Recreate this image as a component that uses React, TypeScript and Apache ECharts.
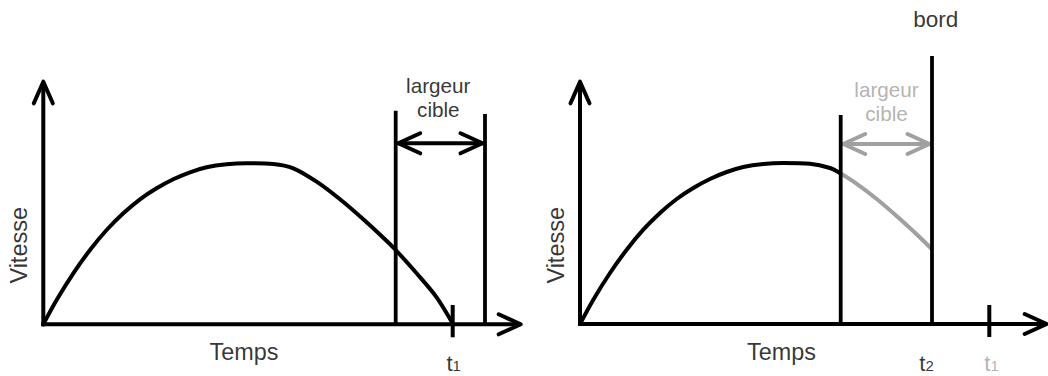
import React, { useEffect, useRef } from "react";
import * as echarts from "echarts";

const FONT = "'Liberation Sans', Arial, Helvetica, sans-serif";
const BLACK = "#000000";
const GREY = "#a0a0a0";

// Speed curve: time (x) and speed (y), origin at the axes' corner
const curveTime = [0, 13.3, 30, 46.7, 63.3, 80, 96.7, 113.3, 130, 146.7, 163.3, 183.3, 203.3, 230, 250, 273.3, 296.7, 320, 340, 352.4, 373.3, 393.3, 409];
const curveSpeed = [0, 24.3, 51, 74.3, 94.3, 111, 125, 136, 145, 152, 157, 160, 161, 160.3, 156, 142.6, 125, 105, 86.5, 74.3, 51, 27, 1.5];

// Right panel: where the target line cuts the curve
const rightJoin: [number, number] = [260.7, 150.5];

// Texts
const axisTexts = ["Vitesse", "Temps"];
const targetText = "largeur\ncible";
const edgeText = "bord";

// Panel geometry (left = no edge, right = with edge)
const leftTargetLines: [number, number][] = [[352.4, 213.6], [441.7, 210.3]];
const rightTargetLines: [number, number][] = [[260.7, 209], [352, 268]];
const leftT1 = 409.4;
const rightT1 = 409.3;

const curve: [number, number][] = curveTime.map((t, i) => [t, curveSpeed[i]]);

function seg(gi: number, data: number[][], color: string, width = 4, cap = "butt", z = 2, smooth: number | boolean = false) {
  return {
    type: "line",
    xAxisIndex: gi,
    yAxisIndex: gi,
    data,
    symbol: "none",
    showSymbol: false,
    silent: true,
    smooth,
    z,
    lineStyle: { color, width, cap, join: "round" },
  };
}

function chevronRight(tipX: number, y: number) {
  return [[tipX - 22, y + 10], [tipX, y], [tipX - 22, y - 10]];
}
function chevronLeft(tipX: number, y: number) {
  return [[tipX + 22, y + 10], [tipX, y], [tipX + 22, y - 10]];
}
function chevronUp(yTop: number) {
  return [[-9.5, yTop - 21.6], [0, yTop], [9.5, yTop - 21.6]];
}

function tLabel(sub: string, color: string) {
  return {
    formatter: `{t|t}{s|${sub}}`,
    rich: {
      t: { fontSize: 22, fontFamily: FONT, color, lineHeight: 19 },
      s: { fontSize: 15, fontFamily: FONT, color, lineHeight: 11, verticalAlign: "bottom" },
    },
  };
}

function labelSeries(gi: number, items: any[]) {
  return {
    type: "scatter",
    xAxisIndex: gi,
    yAxisIndex: gi,
    symbol: "circle",
    symbolSize: 0,
    silent: true,
    z: 10,
    data: items.map((it) => ({
      value: it.at,
      label: {
        show: true,
        position: "inside",
        align: "center",
        verticalAlign: "middle",
        fontFamily: FONT,
        textBorderWidth: 0,
        ...it.label,
      },
    })),
  };
}

export default function App() {
  const ref = useRef<HTMLDivElement>(null);
  useEffect(() => {
    if (!ref.current) return;
    const chart = echarts.init(ref.current, undefined, { renderer: "svg" });

    const leftYTop = 242.6;
    const leftXEnd = 477.4;
    const rightYTop = 242.3;
    const rightXEnd = 466.7;
    const leftArrowY = 181;
    const rightArrowY = 180;

    const rightBlack = [...curve.filter((p) => p[0] <= 250), rightJoin];
    const rightGrey = [rightJoin, ...curve.filter((p) => p[0] > 261 && p[0] <= 353)];

    const series: any[] = [
      // ---- left panel
      seg(0, [[-2, 0], [leftXEnd, 0]], BLACK),
      seg(0, [[0, -2], [0, leftYTop]], BLACK),
      seg(0, chevronUp(leftYTop), BLACK, 4, "round"),
      seg(0, chevronRight(leftXEnd, 0), BLACK, 4, "round"),
      seg(0, curve, BLACK, 4, "round", 3, 0.3),
      ...leftTargetLines.map((l) => seg(0, [[l[0], 0], [l[0], l[1]]], BLACK, 3.8)),
      seg(0, [[leftT1, -13], [leftT1, 19.3]], BLACK, 4),
      seg(0, [[leftTargetLines[0][0] + 2, leftArrowY], [leftTargetLines[1][0] - 2, leftArrowY]], BLACK, 4),
      seg(0, chevronLeft(leftTargetLines[0][0] + 2.5, leftArrowY), BLACK, 4, "round"),
      seg(0, chevronRight(leftTargetLines[1][0] - 2.5, leftArrowY), BLACK, 4, "round"),
      labelSeries(0, [
        { at: [-24.3, 79], label: { formatter: axisTexts[0], fontSize: 23.5, color: BLACK, rotate: 90 } },
        { at: [200.7, -28], label: { formatter: axisTexts[1], fontSize: 23.4, color: BLACK } },
        { at: [395, 227], label: { formatter: targetText, fontSize: 20.7, lineHeight: 24, color: BLACK } },
        { at: [leftT1 + 1, -39.5], label: tLabel("1", BLACK) },
      ]),
      // ---- right panel
      seg(1, [[-2, 0], [rightXEnd, 0]], BLACK),
      seg(1, [[0, -2], [0, rightYTop]], BLACK),
      seg(1, chevronUp(rightYTop), BLACK, 4, "round"),
      seg(1, chevronRight(rightXEnd, 0), BLACK, 4, "round"),
      seg(1, rightBlack, BLACK, 4, "round", 3, 0.3),
      seg(1, rightGrey, GREY, 4, "butt", 3, 0.3),
      ...rightTargetLines.map((l) => seg(1, [[l[0], 0], [l[0], l[1]]], BLACK, 3.8, "butt", 4)),
      seg(1, [[rightT1, -13], [rightT1, 19]], BLACK, 4),
      seg(1, [[rightTargetLines[0][0] + 2, rightArrowY], [rightTargetLines[1][0] - 2, rightArrowY]], GREY, 4),
      seg(1, chevronLeft(rightTargetLines[0][0] + 2.5, rightArrowY), GREY, 4, "round"),
      seg(1, chevronRight(rightTargetLines[1][0] - 2.5, rightArrowY), GREY, 4, "round"),
      labelSeries(1, [
        { at: [-24.3, 78.7], label: { formatter: axisTexts[0], fontSize: 23.5, color: BLACK, rotate: 90 } },
        { at: [201.5, -28], label: { formatter: axisTexts[1], fontSize: 23.4, color: BLACK } },
        { at: [306.5, 223], label: { formatter: targetText, fontSize: 20.7, lineHeight: 24, color: GREY } },
        { at: [355.7, 305], label: { formatter: edgeText, fontSize: 22.5, color: BLACK } },
        { at: [346.5, -39.5], label: tLabel("2", BLACK) },
        { at: [411.5, -39.5], label: tLabel("1", GREY) },
      ]),
    ];

    chart.setOption({
      animation: false,
      backgroundColor: "#ffffff",
      grid: [
        { left: 0, top: 0, width: 524, height: 376, outerBoundsMode: "none", containLabel: false },
        { left: 536.7, top: 0, width: 511.3, height: 376, outerBoundsMode: "none", containLabel: false },
      ],
      xAxis: [
        { type: "value", gridIndex: 0, min: -43.3, max: 480.7, show: false },
        { type: "value", gridIndex: 1, min: -43.3, max: 468, show: false },
      ],
      yAxis: [
        { type: "value", gridIndex: 0, min: -51.7, max: 324.3, show: false },
        { type: "value", gridIndex: 1, min: -52, max: 324, show: false },
      ],
      series,
    });
    return () => chart.dispose();
  }, []);
  return (
    <div
      ref={ref}
      style={{ position: "absolute", left: 0, top: 0, width: 1048, height: 376 }}
    />
  );
}
